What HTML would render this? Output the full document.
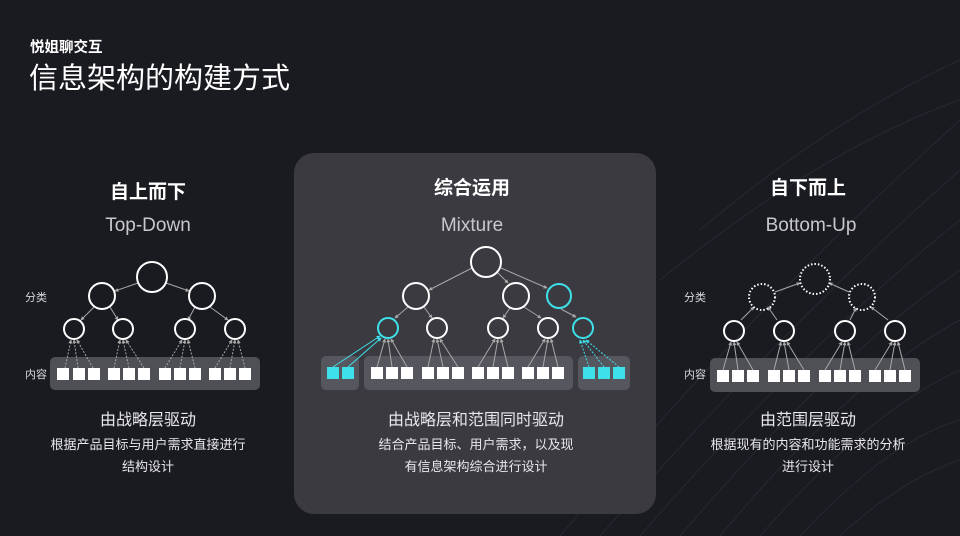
<!DOCTYPE html>
<html><head><meta charset="utf-8"><style>
body{margin:0;width:960px;height:536px;overflow:hidden;background:#1a1b21;font-family:"Liberation Sans","Noto Sans CJK SC",sans-serif;}
</style></head><body>
<svg width="960" height="536" viewBox="0 0 960 536" xmlns="http://www.w3.org/2000/svg" style="position:absolute;left:0;top:0">
<defs>
<marker id="a" viewBox="0 0 6 6" refX="5" refY="3" markerWidth="4" markerHeight="4" orient="auto"><path d="M0,0L6,3L0,6z" fill="#a8a8a8"/></marker>
<marker id="ac" viewBox="0 0 6 6" refX="5" refY="3" markerWidth="4" markerHeight="4" orient="auto"><path d="M0,0L6,3L0,6z" fill="#3ee0ea"/></marker>
</defs>
<g stroke="#282930" stroke-width="1" fill="none">
<path d="M560,536 Q760,300 960,120"/><path d="M600,536 Q790,320 960,170"/><path d="M640,536 Q810,340 960,220"/><path d="M680,536 Q830,360 960,270"/><path d="M720,536 Q850,380 960,320"/><path d="M760,536 Q870,410 960,370"/><path d="M800,536 Q890,440 960,420"/><path d="M700,230 Q830,120 960,60"/><path d="M660,280 Q820,150 960,100"/><path d="M840,536 Q900,480 960,460"/>
</g>
<rect x="294" y="153" width="362" height="361" rx="20" fill="#3a3a40"/>
<text x="30" y="52" fill="#fff" font-size="14.5" font-weight="bold">悦姐聊交互</text>
<text x="29" y="88" fill="#fff" font-size="29">信息架构的构建方式</text>
<g text-anchor="middle" fill="#fff">
<text x="148" y="198" font-size="19" font-weight="bold">自上而下</text>
<text x="148" y="231" font-size="19" fill="#c8c8cc">Top-Down</text>
<text x="472" y="194" font-size="19" font-weight="bold">综合运用</text>
<text x="472" y="231" font-size="19" fill="#c8c8cc">Mixture</text>
<text x="808" y="194" font-size="19" font-weight="bold">自下而上</text>
<text x="811" y="231" font-size="19" fill="#c8c8cc">Bottom-Up</text>
<text x="148" y="425" font-size="16" fill="#e8e8ea">由战略层驱动</text>
<text x="148" y="449" font-size="13" fill="#e8e8ea">根据产品目标与用户需求直接进行</text>
<text x="148" y="471" font-size="13" fill="#e8e8ea">结构设计</text>
<text x="476" y="425" font-size="16" fill="#e8e8ea">由战略层和范围同时驱动</text>
<text x="476" y="449" font-size="13" fill="#e8e8ea">结合产品目标、用户需求，以及现</text>
<text x="476" y="471" font-size="13" fill="#e8e8ea">有信息架构综合进行设计</text>
<text x="808" y="425" font-size="16" fill="#e8e8ea">由范围层驱动</text>
<text x="808" y="449" font-size="13" fill="#e8e8ea">根据现有的内容和功能需求的分析</text>
<text x="808" y="471" font-size="13" fill="#e8e8ea">进行设计</text>
</g>
<g fill="#d8d8dc" font-size="11">
<text x="25" y="301">分类</text><text x="25" y="378">内容</text>
<text x="684" y="301">分类</text><text x="684" y="378">内容</text>
</g>
<g fill="#55555c" opacity="0.9">
<rect x="50" y="357" width="210" height="33" rx="5"/>
<rect x="710" y="358" width="210" height="34" rx="5"/>
<rect x="321" y="356" width="38" height="34" rx="5" fill="#5a5a62"/>
<rect x="364" y="356" width="209" height="34" rx="5" fill="#5a5a62"/>
<rect x="578" y="356" width="52" height="34" rx="5" fill="#5a5a62"/>
</g>
<g fill="#fff">
<rect x="57" y="368" width="12" height="12"/><rect x="73" y="368" width="12" height="12"/><rect x="88" y="368" width="12" height="12"/>
<rect x="108" y="368" width="12" height="12"/><rect x="123" y="368" width="12" height="12"/><rect x="138" y="368" width="12" height="12"/>
<rect x="159" y="368" width="12" height="12"/><rect x="174" y="368" width="12" height="12"/><rect x="189" y="368" width="12" height="12"/>
<rect x="209" y="368" width="12" height="12"/><rect x="224" y="368" width="12" height="12"/><rect x="239" y="368" width="12" height="12"/>
<rect x="717" y="370" width="12" height="12"/><rect x="732" y="370" width="12" height="12"/><rect x="747" y="370" width="12" height="12"/>
<rect x="768" y="370" width="12" height="12"/><rect x="783" y="370" width="12" height="12"/><rect x="798" y="370" width="12" height="12"/>
<rect x="819" y="370" width="12" height="12"/><rect x="834" y="370" width="12" height="12"/><rect x="849" y="370" width="12" height="12"/>
<rect x="869" y="370" width="12" height="12"/><rect x="884" y="370" width="12" height="12"/><rect x="899" y="370" width="12" height="12"/>
<rect x="371" y="367" width="12" height="12"/><rect x="386" y="367" width="12" height="12"/><rect x="401" y="367" width="12" height="12"/>
<rect x="422" y="367" width="12" height="12"/><rect x="437" y="367" width="12" height="12"/><rect x="452" y="367" width="12" height="12"/>
<rect x="472" y="367" width="12" height="12"/><rect x="487" y="367" width="12" height="12"/><rect x="502" y="367" width="12" height="12"/>
<rect x="522" y="367" width="12" height="12"/><rect x="537" y="367" width="12" height="12"/><rect x="552" y="367" width="12" height="12"/>
</g>
<g fill="#3ee0ea">
<rect x="327" y="367" width="12" height="12"/><rect x="342" y="367" width="12" height="12"/>
<rect x="583" y="367" width="12" height="12"/><rect x="598" y="367" width="12" height="12"/><rect x="613" y="367" width="12" height="12"/>
</g>
<g stroke="#a8a8a8" stroke-width="1" marker-end="url(#a)">
<line x1="138" y1="283" x2="115" y2="291"/><line x1="166" y1="283" x2="189" y2="291"/>
<line x1="94" y1="307" x2="81" y2="320"/><line x1="110" y1="307" x2="118" y2="320"/>
<line x1="195" y1="307" x2="188" y2="320"/><line x1="210" y1="307" x2="228" y2="320"/>
<g stroke-dasharray="2,1.5">
<line x1="65" y1="368" x2="71" y2="340"/><line x1="78" y1="368" x2="74" y2="340"/><line x1="93" y1="368" x2="77" y2="340"/>
<line x1="114" y1="368" x2="120" y2="340"/><line x1="129" y1="368" x2="123" y2="340"/><line x1="144" y1="368" x2="126" y2="340"/>
<line x1="165" y1="368" x2="182" y2="340"/><line x1="180" y1="368" x2="185" y2="340"/><line x1="195" y1="368" x2="188" y2="340"/>
<line x1="215" y1="368" x2="232" y2="340"/><line x1="230" y1="368" x2="235" y2="340"/><line x1="245" y1="368" x2="238" y2="340"/>
</g>
<line x1="775" y1="292" x2="800" y2="283"/><line x1="849" y1="292" x2="829" y2="283"/>
<line x1="741" y1="320" x2="754" y2="307"/><line x1="777" y1="320" x2="768" y2="307"/>
<line x1="850" y1="320" x2="856" y2="308"/><line x1="888" y1="320" x2="871" y2="307"/>
<line x1="723" y1="370" x2="731" y2="342"/><line x1="738" y1="370" x2="734" y2="342"/><line x1="753" y1="370" x2="737" y2="342"/>
<line x1="774" y1="370" x2="781" y2="342"/><line x1="789" y1="370" x2="784" y2="342"/><line x1="804" y1="370" x2="787" y2="342"/>
<line x1="825" y1="370" x2="842" y2="342"/><line x1="840" y1="370" x2="845" y2="342"/><line x1="855" y1="370" x2="848" y2="342"/>
<line x1="875" y1="370" x2="892" y2="342"/><line x1="890" y1="370" x2="895" y2="342"/><line x1="905" y1="370" x2="898" y2="342"/>
<line x1="472" y1="268" x2="429" y2="290"/><line x1="497" y1="272" x2="508" y2="283"/><line x1="501" y1="268" x2="547" y2="288"/>
<line x1="408" y1="307" x2="395" y2="318"/><line x1="424" y1="307" x2="432" y2="318"/>
<line x1="510" y1="308" x2="503" y2="318"/><line x1="524" y1="307" x2="541" y2="318"/><line x1="561" y1="309" x2="576" y2="317"/>
<line x1="377" y1="367" x2="385" y2="339"/><line x1="392" y1="367" x2="388" y2="339"/><line x1="407" y1="367" x2="391" y2="339"/>
<line x1="428" y1="367" x2="434" y2="339"/><line x1="443" y1="367" x2="437" y2="339"/><line x1="458" y1="367" x2="440" y2="339"/>
<line x1="478" y1="367" x2="495" y2="339"/><line x1="493" y1="367" x2="498" y2="339"/><line x1="508" y1="367" x2="501" y2="339"/>
<line x1="528" y1="367" x2="545" y2="339"/><line x1="543" y1="367" x2="548" y2="339"/><line x1="558" y1="367" x2="551" y2="339"/>
</g>
<g stroke="#3ee0ea" stroke-width="1" marker-end="url(#ac)">
<line x1="333" y1="367" x2="380" y2="336"/><line x1="348" y1="367" x2="381" y2="338"/>
<g stroke-dasharray="2,1.5"><line x1="589" y1="367" x2="580" y2="340"/><line x1="604" y1="367" x2="583" y2="340"/><line x1="619" y1="367" x2="586" y2="340"/></g>
</g>
<g fill="none" stroke="#fff" stroke-width="2">
<circle cx="152" cy="277" r="15"/><circle cx="102" cy="296" r="13"/><circle cx="202" cy="296" r="13"/>
<circle cx="74" cy="329" r="10"/><circle cx="123" cy="329" r="10"/><circle cx="185" cy="329" r="10"/><circle cx="235" cy="329" r="10"/>
<circle cx="486" cy="262" r="15"/><circle cx="416" cy="296" r="13"/><circle cx="516" cy="296" r="13"/>
<circle cx="437" cy="328" r="10"/><circle cx="498" cy="328" r="10"/><circle cx="548" cy="328" r="10"/>
<circle cx="734" cy="331" r="10"/><circle cx="784" cy="331" r="10"/><circle cx="845" cy="331" r="10"/><circle cx="895" cy="331" r="10"/>
<g stroke-dasharray="1.5,2"><circle cx="815" cy="279" r="15"/><circle cx="762" cy="297" r="13"/><circle cx="862" cy="297" r="13"/></g>
</g>
<g fill="none" stroke="#3ee0ea" stroke-width="2">
<circle cx="559" cy="296" r="12"/><circle cx="388" cy="328" r="10"/><circle cx="583" cy="328" r="10"/>
</g>
</svg>
</body></html>
